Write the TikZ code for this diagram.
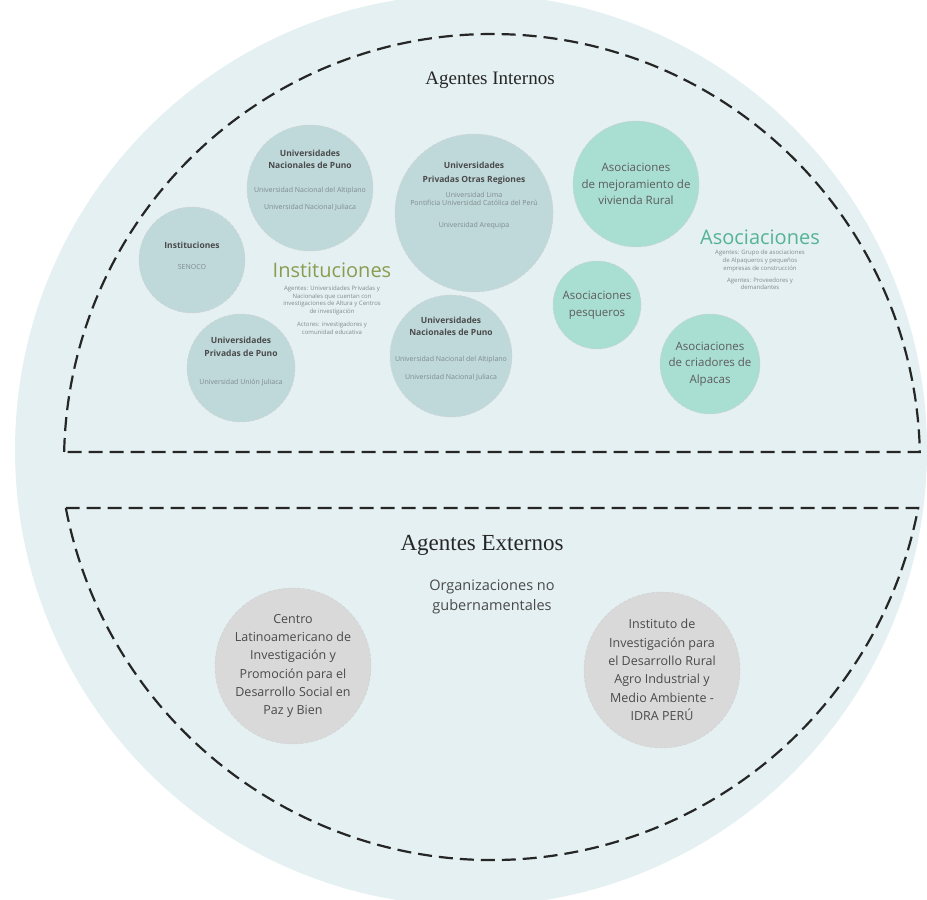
\documentclass[tikz,border=0pt]{standalone}
\usepackage{fontspec}
\usetikzlibrary{calc}
\setmainfont{Open Sans}
\newfontfamily\serifagent{Liberation Serif}
\definecolor{bgc}{HTML}{E4F0F1}
\definecolor{tealc}{HTML}{BFD9DB}
\definecolor{mintc}{HTML}{A9DED2}
\definecolor{grayc}{HTML}{D9D9D9}
\definecolor{olivet}{HTML}{8B9B50}
\definecolor{tealt}{HTML}{55B394}
\definecolor{darkt}{HTML}{4A4A4A}
\definecolor{smallt}{HTML}{7F8B8C}
\newcommand{\entry}[1]{{\fontsize{7}{12}\selectfont\mdseries\color{smallt}#1}}
\begin{document}
\begin{tikzpicture}[x=1pt,y=1pt,
  bubble/.style={circle,draw=black!18,dash pattern=on 3pt off 2pt,line width=0.5pt,inner sep=0pt,align=center},
  tealb/.style={bubble,fill=tealc},
  btext/.style={align=center,inner sep=0pt,text=darkt,font=\fontsize{8.5}{12}\selectfont\bfseries},
  mintb/.style={bubble,fill=mintc,text=darkt!90,font=\fontsize{11.5}{16.5}\selectfont},
  grayb/.style={bubble,fill=grayc,text=darkt,font=\fontsize{12.5}{18.3}\selectfont},
  region/.style={draw=black!85,line width=2.2pt,dash pattern=on 14pt off 7pt},
  tiny/.style={font=\fontsize{6}{7.8}\selectfont,text=smallt,align=center}]
\useasboundingbox (0,0) rectangle (927,900);
\begin{scope}
\clip (0,0) rectangle (927,900);
\fill[bgc] (471,450) circle[radius=456];
\end{scope}
% regions
\coordinate (topc) at (492,438);
\coordinate (botc) at (492,474);
\draw[region] ($(topc)+(178.66:428)$) arc[start angle=178.66,end angle=1.34,radius=428] -- cycle;
\draw[region] ($(botc)+(190.9:434)$) arc[start angle=190.9,end angle=349.1,radius=434] -- cycle;
% titles
\node[font=\serifagent\fontsize{19}{22}\selectfont,text=black!85] (tint) at (490,820) {Agentes Internos};
\node[font=\serifagent\fontsize{23}{26}\selectfont,text=black!85] (text) at (482,355) {Agentes Externos};
% teal circles
\node[tealb,minimum size=126] (unp1) at (310,712) {};
\node[btext] (unp1t) at (310,719.5) {Universidades\\Nacionales de Puno\\[12pt]\entry{Universidad Nacional del Altiplano}\\[5pt]\entry{Universidad Nacional Juliaca}};
\node[tealb,minimum size=106] (inst) at (192,640) {};
\node[btext] (instt) at (192,644.5) {Instituciones\\[9pt]\entry{SENOCO}};
\node[tealb,minimum size=158] (upor) at (474,687) {};
\node[btext] (uport) at (474,704.5) {Universidades\\[2pt]Privadas Otras Regiones\\[3pt]\entry{Universidad Lima}\\[-4pt]\entry{Pontificia Universidad Católica del Perú}\\[10pt]\entry{Universidad Arequipa}};
\node[tealb,minimum size=108] (uppu) at (241,532) {};
\node[btext] (upput) at (241,538.5) {Universidades\\[1pt]Privadas de Puno\\[16pt]\entry{Universidad Unión Juliaca}};
\node[tealb,minimum size=122] (unp2) at (451,544) {};
\node[btext] (unp2t) at (451,551) {Universidades\\Nacionales de Puno\\[14pt]\entry{Universidad Nacional del Altiplano}\\[6pt]\entry{Universidad Nacional Juliaca}};
% instituciones label
\node[font=\fontsize{20}{22}\selectfont,text=olivet] (instl) at (332,630) {Instituciones};
\node[tiny] (instd) at (332,590) {Agentes: Universidades Privadas y\\Nacionales que cuentan con\\investigaciones de Altura y Centros\\de investigación\\[5pt]Actores: investigadores y\\comunidad educativa};
% mint circles
\node[mintb,minimum size=126] (amej) at (636,716) {Asociaciones\\de mejoramiento de\\vivienda Rural};
\node[mintb,minimum size=88] (apes) at (597,595) {Asociaciones\\pesqueros};
\node[mintb,minimum size=100] (acri) at (710,536) {Asociaciones\\de criadores de\\Alpacas};
\node[font=\fontsize{20}{22}\selectfont,text=tealt] (asol) at (760,663) {Asociaciones};
\node[tiny] (asod) at (760,630) {Agentes: Grupo de asociaciones\\de Alpaqueros y pequeños\\empresas de construcción\\[4pt]Agentes: Proveedores y\\demandantes};
% external
\node[font=\fontsize{14.5}{20}\selectfont,text=darkt,align=center] (ong) at (492,303) {Organizaciones no\\gubernamentales};
\node[grayb,minimum size=156] (clat) at (293,234) {Centro\\Latinoamericano de\\Investigación y\\Promoción para el\\Desarrollo Social en\\Paz y Bien};
\node[grayb,minimum size=156] (idra) at (662,230) {Instituto de\\Investigación para\\el Desarrollo Rural\\Agro Industrial y\\Medio Ambiente -\\IDRA PERÚ};
\end{tikzpicture}
\end{document}
